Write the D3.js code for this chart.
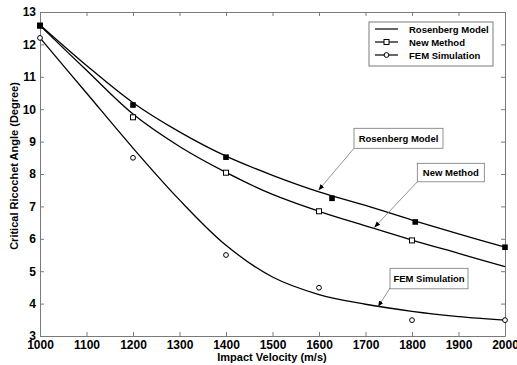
<!DOCTYPE html>
<html>
<head>
<meta charset="utf-8">
<script src="https://cdn.jsdelivr.net/npm/d3@7"></script>
<style>
  body { margin: 0; background: #fff; }
  text { font-family: Arial, "Liberation Sans", sans-serif; font-weight: bold; }
</style>
</head>
<body>
<div id="chart"></div>
<script>
// curve samples
const curveX = [1000, 1100, 1200, 1300, 1400, 1500, 1600, 1700, 1800, 1900, 2000];
const rosenbergCurve = [12.6, 11.35, 10.2, 9.3, 8.55, 7.96, 7.45, 7.03, 6.58, 6.15, 5.74];
const newMethodCurve = [12.58, 11.2, 9.85, 8.85, 8.05, 7.37, 6.85, 6.4, 5.96, 5.55, 5.14];
const femCurve = [12.2, 10.5, 8.8, 7.2, 5.8, 4.82, 4.28, 3.98, 3.76, 3.6, 3.49];

// marker points
const rosenbergPtX = [1000, 1200, 1400, 1628, 1807, 2000];
const rosenbergPtY = [12.58, 10.13, 8.52, 7.25, 6.52, 5.74];
const newMethodPtX = [1000, 1200, 1400, 1600, 1800];
const newMethodPtY = [12.58, 9.75, 8.04, 6.85, 5.95];
const femPtX = [1000, 1200, 1400, 1600, 1800, 2000];
const femPtY = [12.2, 8.5, 5.5, 4.49, 3.49, 3.49];

const xTicks = [1000, 1100, 1200, 1300, 1400, 1500, 1600, 1700, 1800, 1900, 2000];
const yTicks = [3, 4, 5, 6, 7, 8, 9, 10, 11, 12, 13];
const legendNames = ["Rosenberg Model", "New Method", "FEM Simulation"];

const svgWidth = 517, svgHeight = 365;
const margin = {top: 12, right: 12, bottom: 29, left: 40};
const width = svgWidth - margin.left - margin.right;
const height = svgHeight - margin.top - margin.bottom;
const axisColor = "#7a7a7a";

const x = d3.scaleLinear().domain([1000, 2000]).range([0, width]);
const y = d3.scaleLinear().domain([3, 13]).range([height, 0]);

let svg = d3.select("#chart").append("svg")
  .attr("width", svgWidth)
  .attr("height", svgHeight);

svg.append("defs").append("marker")
  .attr("id", "arrow")
  .attr("viewBox", "0 0 10 10")
  .attr("refX", 10).attr("refY", 5)
  .attr("markerWidth", 6).attr("markerHeight", 6)
  .attr("markerUnits", "userSpaceOnUse")
  .attr("orient", "auto")
  .append("path").attr("d", "M0,1 L10,5 L0,9 Z").attr("fill", "#000");

const g = svg.append("g").attr("transform", "translate(" + margin.left + "," + margin.top + ")");

// axes (ticks inside, MATLAB style)
function styleAxis(sel) {
  sel.select(".domain").attr("stroke", axisColor);
  sel.selectAll(".tick line").attr("stroke", axisColor);
  sel.selectAll("text").attr("fill", "#000").style("font-size", "12px");
}
g.append("g").attr("transform", "translate(0," + height + ")")
  .call(d3.axisBottom(x).tickValues(xTicks).tickSizeInner(-4).tickSizeOuter(0).tickPadding(4).tickFormat(d3.format("d")))
  .call(styleAxis);
g.append("g")
  .call(d3.axisLeft(y).tickValues(yTicks).tickSizeInner(-4).tickSizeOuter(0).tickPadding(4).tickFormat(d3.format("d")))
  .call(styleAxis);
g.append("g")
  .call(d3.axisTop(x).tickValues(xTicks).tickSizeInner(-4).tickSizeOuter(0).tickFormat(""))
  .call(styleAxis);
g.append("g").attr("transform", "translate(" + width + ",0)")
  .call(d3.axisRight(y).tickValues(yTicks).tickSizeInner(-4).tickSizeOuter(0).tickFormat(""))
  .call(styleAxis);

// curves
const line = d3.line().x(d => x(d[0])).y(d => y(d[1])).curve(d3.curveCatmullRom);
[rosenbergCurve, newMethodCurve, femCurve].forEach(vals => {
  g.append("path")
    .datum(curveX.map((v, i) => [v, vals[i]]))
    .attr("fill", "none").attr("stroke", "#000").attr("stroke-width", 1.3)
    .attr("d", line);
});

// markers
g.selectAll(".nm").data(newMethodPtX).enter().append("rect")
  .attr("x", (d) => x(d) - 2.5).attr("y", (d, i) => y(newMethodPtY[i]) - 2.5)
  .attr("width", 5).attr("height", 5)
  .attr("fill", "#fff").attr("stroke", "#000").attr("stroke-width", 1);
g.selectAll(".fem").data(femPtX).enter().append("circle")
  .attr("cx", (d) => x(d)).attr("cy", (d, i) => y(femPtY[i])).attr("r", 2.4)
  .attr("fill", "#fff").attr("stroke", "#000").attr("stroke-width", 1);
g.selectAll(".rb").data(rosenbergPtX).enter().append("rect")
  .attr("x", (d) => x(d) - 2.8).attr("y", (d, i) => y(rosenbergPtY[i]) - 2.8)
  .attr("width", 5.6).attr("height", 5.6)
  .attr("fill", "#000");

// annotation boxes with arrows
const notes = [
  {name: legendNames[0], box: [314, 116.3, 89, 20], from: [314, 136.3], to: [1599, 7.5]},
  {name: legendNames[1], box: [377.3, 151.3, 67, 18.5], from: [377.3, 169.8], to: [1719, 6.35]},
  {name: legendNames[2], box: [350, 256.3, 78, 20.5], from: [350, 276], to: [1727, 3.9]}
];
notes.forEach(n => {
  g.append("line")
    .attr("x1", n.from[0]).attr("y1", n.from[1])
    .attr("x2", x(n.to[0])).attr("y2", y(n.to[1]))
    .attr("stroke", "#777").attr("stroke-width", 0.8)
    .attr("marker-end", "url(#arrow)");
  g.append("rect")
    .attr("x", n.box[0]).attr("y", n.box[1]).attr("width", n.box[2]).attr("height", n.box[3])
    .attr("fill", "#fff").attr("stroke", "#777").attr("stroke-width", 0.8);
  g.append("text")
    .attr("x", n.box[0] + n.box[2] / 2).attr("y", n.box[1] + n.box[3] / 2 + 3.5)
    .attr("text-anchor", "middle").style("font-size", "9.5px")
    .text(n.name);
});

// legend
const legend = g.append("g").attr("transform", "translate(329,10)");
legend.append("rect").attr("width", 124).attr("height", 44)
  .attr("fill", "#fff").attr("stroke", axisColor).attr("stroke-width", 1);
legendNames.forEach((name, i) => {
  const ly = 7 + i * 13;
  legend.append("line").attr("x1", 6).attr("x2", 29).attr("y1", ly).attr("y2", ly)
    .attr("stroke", "#000").attr("stroke-width", 1.2);
  if (i === 1) {
    legend.append("rect").attr("x", 15).attr("y", ly - 2.5).attr("width", 5).attr("height", 5)
      .attr("fill", "#fff").attr("stroke", "#000");
  }
  if (i === 2) {
    legend.append("circle").attr("cx", 17.5).attr("cy", ly).attr("r", 2.4)
      .attr("fill", "#fff").attr("stroke", "#000");
  }
  legend.append("text").attr("x", 40).attr("y", ly + 3.5)
    .style("font-size", "9.5px").text(name);
});

// axis titles
svg.append("text")
  .attr("x", 272).attr("y", 361)
  .attr("text-anchor", "middle").style("font-size", "11px")
  .text("Impact Velocity (m/s)");
svg.append("text")
  .attr("transform", "translate(18,166) rotate(-90)")
  .attr("text-anchor", "middle").style("font-size", "11px")
  .text("Critical Ricochet Angle (Degree)");
</script>
</body>
</html>
